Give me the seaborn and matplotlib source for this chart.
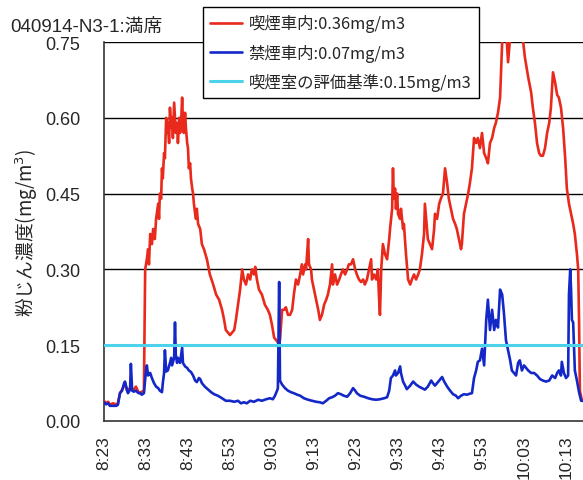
import matplotlib
matplotlib.use("Agg")
import matplotlib.pyplot as plt
import seaborn as sns
import pandas as pd

# Minutes elapsed since 8:23 and dust concentration (mg/m3)
smoking_minutes = [
    0.0, 0.5, 1.0, 1.4, 2.1, 2.9, 3.3, 3.8, 4.5, 5.0, 5.5, 6.2, 6.9, 7.6, 8.3, 9.0, 9.5,
    9.8, 10.2, 10.5, 10.7, 11.0, 11.4, 11.7, 12.1, 12.4, 12.9, 13.1, 13.3, 13.6, 13.8,
    14.0, 14.3, 14.5, 14.8, 15.0, 15.2, 15.5, 15.7, 16.0, 16.2, 16.4, 16.7, 16.9, 17.1,
    17.4, 17.6, 17.9, 18.1, 18.3, 18.6, 18.8, 19.0, 19.3, 19.5, 19.8, 20.0, 20.2, 20.5,
    20.7, 21.0, 21.2, 21.4, 21.7, 21.9, 22.1, 22.4, 22.9, 23.3, 23.8, 24.5, 25.2, 26.0,
    26.7, 27.4, 28.1, 28.6, 29.0, 29.5, 30.0, 30.5, 31.0, 31.4, 31.9, 32.4, 32.9, 33.3,
    33.8, 34.3, 34.8, 35.2, 35.7, 36.0, 36.4, 36.9, 37.6, 38.3, 39.0, 39.5, 40.0, 40.5,
    41.0, 41.4, 41.9, 42.4, 42.9, 43.3, 43.8, 44.3, 44.8, 45.2, 45.7, 46.2, 46.7, 47.1,
    47.4, 47.9, 48.1, 48.6, 48.8, 49.3, 49.5, 50.0, 50.5, 51.0, 51.4, 51.9, 52.4, 52.9,
    53.3, 53.8, 54.3, 54.5, 55.0, 55.5, 56.0, 56.4, 56.9, 57.4, 57.9, 58.3, 58.8, 59.3,
    59.8, 60.2, 60.7, 61.2, 61.7, 62.1, 62.6, 63.1, 63.6, 63.8, 64.3, 64.8, 65.2, 65.5,
    65.7, 66.0, 66.4, 66.9, 67.4, 67.9, 68.1, 68.6, 68.8, 69.0, 69.3, 69.5, 69.8, 70.0,
    70.5, 70.7, 71.2, 71.4, 71.9, 72.4, 72.9, 73.3, 73.8, 74.3, 74.8, 75.2, 75.7, 76.2,
    76.4, 76.7, 77.1, 77.6, 78.1, 78.6, 78.8, 79.3, 79.8, 80.2, 80.7, 81.2, 81.7, 82.1,
    82.6, 83.1, 83.6, 84.0, 84.5, 85.0, 85.2, 85.7, 86.2, 86.7, 87.1, 87.6, 88.1, 88.6,
    89.0, 89.5, 90.0, 90.5, 91.0, 91.4, 91.9, 92.4, 92.9, 93.3, 93.8, 94.3, 94.8, 95.2,
    95.7, 96.2, 96.7, 97.1, 97.9, 98.6, 99.3, 99.8, 100.2, 101.0, 101.7, 102.1, 102.6,
    103.1, 103.6, 104.0, 104.5, 105.0, 105.5, 106.0, 106.4, 106.9, 107.4, 107.9, 108.3,
    108.8, 109.3, 109.8, 110.2, 110.7, 111.2, 111.7, 112.1, 112.6, 112.9, 113.1, 113.3,
    113.8, 114.3,
]
smoking_values = [
    0.040, 0.035, 0.038, 0.032, 0.035, 0.033, 0.035, 0.055, 0.065, 0.075, 0.060, 0.065,
    0.060, 0.068, 0.055, 0.058, 0.060,
    0.30, 0.32, 0.34, 0.31, 0.37, 0.35, 0.38, 0.36, 0.40, 0.43, 0.40, 0.45, 0.44, 0.50,
    0.48, 0.53, 0.52, 0.60, 0.57, 0.59, 0.55, 0.62, 0.58, 0.60, 0.56, 0.63, 0.60, 0.57,
    0.59, 0.55, 0.60, 0.57, 0.58, 0.64, 0.59, 0.57, 0.61, 0.58, 0.55, 0.54, 0.50, 0.51,
    0.48, 0.46, 0.45, 0.43, 0.41, 0.40, 0.42, 0.39, 0.38, 0.35, 0.34, 0.32, 0.29, 0.27,
    0.25, 0.24, 0.22, 0.20, 0.18, 0.175, 0.17, 0.175, 0.18, 0.20, 0.23, 0.26, 0.30, 0.28,
    0.27, 0.29, 0.28, 0.30, 0.29, 0.305, 0.28, 0.26, 0.25, 0.23, 0.22, 0.21, 0.19, 0.165,
    0.16, 0.155, 0.16, 0.22, 0.22, 0.225, 0.21, 0.21, 0.22, 0.25, 0.28, 0.27, 0.29, 0.31,
    0.29, 0.31, 0.30, 0.36, 0.31, 0.30, 0.28, 0.26, 0.24, 0.22, 0.20, 0.21, 0.23, 0.24,
    0.25, 0.27, 0.31, 0.27, 0.29, 0.27, 0.28, 0.29, 0.30, 0.29, 0.30, 0.31, 0.31, 0.32,
    0.30, 0.29, 0.28, 0.275, 0.28, 0.27, 0.28, 0.30, 0.32, 0.28, 0.29, 0.28, 0.30, 0.24,
    0.21, 0.30, 0.35, 0.33, 0.32, 0.36, 0.38, 0.42, 0.50, 0.44, 0.46, 0.42, 0.45, 0.41,
    0.40, 0.42, 0.38, 0.39, 0.33, 0.28, 0.27, 0.28, 0.29, 0.28, 0.29, 0.30, 0.33, 0.37,
    0.43, 0.40, 0.36, 0.35, 0.34, 0.38, 0.41, 0.40, 0.43, 0.44, 0.45, 0.50, 0.47, 0.44,
    0.42, 0.40, 0.39, 0.38, 0.36, 0.34, 0.35, 0.41, 0.43, 0.45, 0.47, 0.50, 0.56, 0.55,
    0.56, 0.54, 0.57, 0.53, 0.52, 0.51, 0.55, 0.56, 0.58, 0.59, 0.61, 0.64, 0.75, 0.76,
    0.78, 0.71, 0.76, 0.79, 0.80, 0.78, 0.76, 0.75, 0.72, 0.68, 0.65, 0.62, 0.59,
    0.55, 0.53, 0.525, 0.525, 0.54, 0.57, 0.59, 0.62, 0.69, 0.67, 0.645, 0.64,
    0.62, 0.58, 0.52, 0.46, 0.43, 0.41, 0.39, 0.37, 0.33, 0.30, 0.20, 0.06,
    0.04, 0.04,
]

nonsmoking_minutes = [
    0.0, 0.5, 1.0, 1.4, 2.1, 2.9, 3.3, 3.8, 4.3, 4.8, 5.0, 5.5, 5.7, 6.2, 6.4, 6.7, 7.1,
    7.6, 8.1, 8.6, 9.0, 9.5, 10.0, 10.2, 10.5, 11.0, 11.4, 11.9, 12.4, 12.9, 13.3, 13.8,
    14.0, 14.3, 14.5, 14.8, 15.2, 15.7, 16.0, 16.2, 16.7, 16.9, 17.1, 17.4, 17.6, 18.1,
    18.6, 18.8, 19.3, 19.8, 20.2, 20.7, 21.2, 21.7, 22.1, 22.6, 22.9, 23.3, 24.0, 24.8,
    25.5, 26.2, 27.1, 28.1, 29.0, 30.0, 31.0, 31.9, 32.6, 33.3, 34.0, 34.8, 35.7, 36.7,
    37.6, 38.6, 39.5, 40.2, 40.7, 41.2, 41.4, 41.7, 41.9, 42.4, 43.1, 43.8, 44.5, 45.2,
    46.0, 46.7, 47.6, 48.6, 49.5, 50.5, 51.4, 52.1, 52.9, 53.6, 54.3, 55.0, 55.7, 56.4,
    57.1, 57.9, 58.6, 59.3, 59.8, 60.2, 61.0, 61.9, 62.9, 63.8, 64.8, 65.7, 66.7, 67.4,
    67.9, 68.3, 68.8, 69.3, 69.5, 70.0, 70.5, 70.7, 71.2, 71.7, 72.1, 72.9, 73.6, 74.3,
    75.0, 75.7, 76.4, 77.1, 77.9, 78.3, 78.8, 79.3, 80.0, 80.5, 81.0, 81.7, 82.4, 83.1,
    83.8, 84.3, 85.0, 85.7, 86.4, 87.1, 87.6, 88.1, 88.6, 89.0, 89.5, 90.0, 90.5, 91.0,
    91.4, 91.9, 92.4, 92.9, 93.3, 93.8, 94.3, 94.8, 95.2, 95.7, 96.2, 96.7, 97.1, 97.6,
    98.1, 98.6, 99.0, 99.5, 100.0, 100.5, 101.0, 101.7, 102.4, 103.1, 103.8, 104.5,
    105.2, 106.0, 106.7, 107.4, 107.9, 108.3, 108.8, 109.0, 109.5, 110.0, 110.5, 110.7,
    111.0, 111.2, 111.4, 111.7, 112.1, 112.6, 113.1, 113.6, 114.3,
]
nonsmoking_values = [
    0.037, 0.033, 0.035, 0.030, 0.030, 0.030, 0.032, 0.055, 0.060, 0.075, 0.078, 0.060,
    0.055, 0.062, 0.113, 0.060, 0.058, 0.060, 0.056, 0.055, 0.052, 0.055, 0.100, 0.110,
    0.090, 0.095, 0.085, 0.075, 0.068, 0.065, 0.060, 0.057, 0.075, 0.095, 0.140, 0.098,
    0.100, 0.115, 0.125, 0.110, 0.125, 0.195, 0.130, 0.115, 0.125, 0.115, 0.145, 0.115,
    0.108, 0.105, 0.100, 0.097, 0.090, 0.080, 0.077, 0.085, 0.083, 0.075, 0.068, 0.062,
    0.057, 0.053, 0.050, 0.045, 0.040, 0.040, 0.038, 0.040, 0.035, 0.037, 0.035, 0.040,
    0.038, 0.042, 0.040, 0.043, 0.045, 0.043, 0.050, 0.060, 0.065, 0.275, 0.080, 0.072,
    0.065, 0.060, 0.057, 0.055, 0.052, 0.050, 0.045, 0.042, 0.040, 0.038, 0.037, 0.035,
    0.040, 0.045, 0.047, 0.050, 0.055, 0.053, 0.050, 0.048, 0.055, 0.065, 0.060, 0.055,
    0.050, 0.048, 0.045, 0.043, 0.042, 0.043, 0.045, 0.047, 0.060, 0.085, 0.090, 0.100,
    0.090, 0.095, 0.108, 0.095, 0.078, 0.070, 0.063, 0.070, 0.078, 0.072, 0.068, 0.065,
    0.062, 0.068, 0.080, 0.075, 0.070, 0.075, 0.082, 0.087, 0.078, 0.068, 0.060, 0.053,
    0.050, 0.045, 0.050, 0.053, 0.052, 0.054, 0.055, 0.085, 0.100, 0.117, 0.120, 0.143,
    0.110, 0.200, 0.240, 0.180, 0.220, 0.180, 0.200, 0.185, 0.260, 0.250, 0.215, 0.160,
    0.140, 0.120, 0.100, 0.095, 0.090, 0.115, 0.120, 0.100, 0.110, 0.105, 0.100, 0.095,
    0.095, 0.090, 0.083, 0.080, 0.078, 0.080, 0.090, 0.085, 0.095, 0.100, 0.090, 0.117,
    0.095, 0.085, 0.090, 0.250, 0.300, 0.260, 0.200, 0.195, 0.100, 0.080, 0.057, 0.040,
    0.040,
]

standard_value = 0.15

series_labels = [
    "喫煙車内:0.36mg/m3",
    "禁煙車内:0.07mg/m3",
    "喫煙室の評価基準:0.15mg/m3",
]
tick_minutes = [0, 10, 20, 30, 40, 50, 60, 70, 80, 90, 100, 110]
tick_labels = ["8:23", "8:33", "8:43", "8:53", "9:03", "9:13", "9:23", "9:33",
               "9:43", "9:53", "10:03", "10:13"]
y_ticks = [0.00, 0.15, 0.30, 0.45, 0.60, 0.75]

sns.set_style("white")
plt.rcParams["font.family"] = ["Liberation Sans", "Noto Sans CJK JP", "DejaVu Sans"]

smoking = pd.DataFrame({"minute": smoking_minutes, "conc": smoking_values})
nonsmoking = pd.DataFrame({"minute": nonsmoking_minutes, "conc": nonsmoking_values})

fig = plt.figure(figsize=(5.83, 4.81), dpi=100)
ax = fig.add_axes([0.1784, 0.1227, 0.8285, 0.7879])

for y in y_ticks[1:]:
    ax.axhline(y, color="black", lw=1.0, zorder=1)

sns.lineplot(data=smoking, x="minute", y="conc", ax=ax, color="#e8291c", lw=1.9,
             label=series_labels[0], zorder=3)
sns.lineplot(data=nonsmoking, x="minute", y="conc", ax=ax, color="#1428c8", lw=1.9,
             label=series_labels[1], zorder=4)
ax.axhline(standard_value, color="#4cd2ea", lw=2.2, label=series_labels[2], zorder=5)

ax.set_xlim(0, 115)
ax.set_ylim(0, 0.75)
ax.set_yticks(y_ticks)
ax.set_yticklabels([f"{v:.2f}" for v in y_ticks], fontsize=13)
ax.set_xticks(tick_minutes)
ax.set_xticklabels(tick_labels, rotation=90, fontsize=12.5)
ax.tick_params(axis="both", length=0)
ax.tick_params(axis="x", pad=10)
ax.tick_params(axis="y", pad=17)
ax.set_xlabel("")
ax.set_ylabel("粉じん濃度(mg/m$^3$)", fontsize=13.5,
              family=["Noto Sans CJK JP", "DejaVu Sans"], labelpad=4)

for side in ["top", "right"]:
    ax.spines[side].set_visible(False)
for side in ["left", "bottom"]:
    ax.spines[side].set_color("#333333")
    ax.spines[side].set_linewidth(1.2)

leg = ax.legend(loc="upper left", bbox_to_anchor=(203 / 583, 1 - 8 / 481),
                bbox_transform=fig.transFigure, frameon=True, fancybox=False,
                handlelength=1.9, handletextpad=0.45, labelspacing=0.68,
                borderpad=0.45, borderaxespad=0,
                prop={"family": ["Noto Sans CJK JP"], "size": 11.8})
leg.get_frame().set_edgecolor("black")
leg.get_frame().set_linewidth(1.0)
leg.get_frame().set_alpha(1)
leg.set_zorder(10)

fig.text(10 / 583, 1 - 32 / 481, "040914-N3-1:満席", fontsize=13.5,
         family=["Liberation Sans", "Noto Sans CJK JP"], va="baseline", ha="left")

fig.savefig("out.png", dpi=100)
